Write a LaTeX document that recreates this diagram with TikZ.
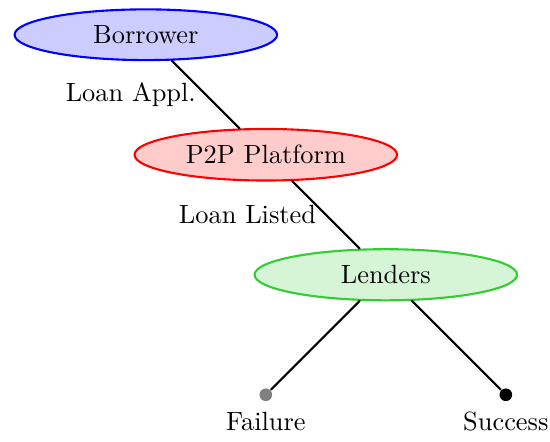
\documentclass[tikz,border=0pt]{standalone}
\usetikzlibrary{shapes.geometric}
\definecolor{limegreen}{RGB}{50,205,50}
\begin{document}
\begin{tikzpicture}[line join=round,line cap=round,thick]
			\tikzset{party/.style={ellipse,draw,minimum width=3.5cm},
				outcome/.style={circle,fill,inner sep=0pt,minimum size=4.8pt}}
			\useasboundingbox (-1.944,0.463) rectangle (5.389,-5.417);
			\node[party,draw=blue,fill=blue!20] (borrower) at (0,0) {Borrower};
			\node[party,draw=red,fill=red!20] (platform) at (1.6,-1.6) {P2P Platform};
			\node[party,draw=limegreen,fill=limegreen!20] (lenders) at (3.2,-3.2) {Lenders};
			\node[outcome,gray,label={below:Failure}] (failure) at (1.6,-4.8) {};
			\node[outcome,black,label={below:Success}] (success) at (4.8,-4.8) {};
			\draw (borrower)--(platform) node[midway,left] {Loan Appl.};
			\draw (platform)--(lenders) node[midway,left] {Loan Listed};
			\foreach \j in {failure,success}{
					\draw (lenders)--(\j);
				}
		\end{tikzpicture}
\end{document}
